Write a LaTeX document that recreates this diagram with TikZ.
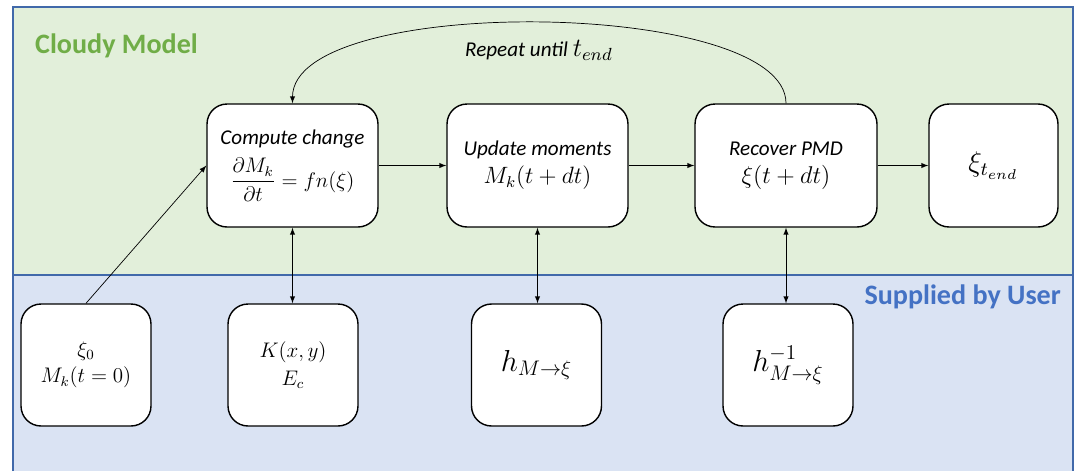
\documentclass[tikz,border=0pt]{standalone}
\usepackage{amsmath}
\usepackage{fontspec}
\setmainfont{Carlito}
\definecolor{panelgreen}{RGB}{226,239,218}
\definecolor{panelblue}{RGB}{218,227,243}
\definecolor{titlegreen}{RGB}{112,173,71}
\definecolor{titleblue}{RGB}{68,114,196}
\definecolor{edgeblue}{RGB}{65,105,170}
\newcommand{\bigmath}[2][1.12]{\scalebox{#1}{$#2$}}
\tikzset{
  >=latex,
}
\tikzstyle{block}=[draw,fill=white,rounded corners=0.4cm,line width=0.8pt,align=center,font=\fontsize{12}{15}\selectfont]
\tikzstyle{topblock}=[block,minimum height=2.46cm]
\tikzstyle{userblock}=[block,minimum width=2.6cm,minimum height=2.44cm]
\tikzstyle{flow}=[->,line width=0.4pt]
\tikzstyle{link}=[<->,line width=0.4pt]
\tikzstyle{title}=[font=\fontsize{16}{19}\selectfont\bfseries]

\begin{document}
\begin{tikzpicture}[x=0.02cm,y=-0.02cm]
    \useasboundingbox (0,0) rectangle (1077,471);
    % panels
    \fill[panelgreen] (13,7) rectangle (1073,275);
    \fill[panelblue] (13,275) rectangle (1073,471);
    \draw[edgeblue,line width=0.8pt] (13,471)--(13,7)--(1073,7)--(1073,471);
    \draw[edgeblue,line width=0.8pt] (13,275)--(1073,275);
    \node[title,titlegreen,anchor=west] (cloudy) at (29,46) {Cloudy Model};
    \node[title,titleblue,anchor=east] (user) at (1067,297) {Supplied by User};

    % model steps
    \node[topblock,minimum width=3.42cm] (compute) at (292.5,165.5)
    {\textit{Compute change}\\[5pt] $\dfrac{\partial M_k}{\partial t}=fn(\xi)$};
    \node[topblock,minimum width=3.62cm] (update) at (537.5,165.5)
    {\textit{Update moments}\\[1pt] \bigmath{M_k(t+dt)}};
    \node[topblock,minimum width=3.64cm] (recover) at (786,165.5)
    {\textit{Recover PMD}\\[1pt] \bigmath[1.15]{\xi(t+dt)}};
    \node[topblock,minimum width=2.58cm] (final) at (993.5,165.5) {\bigmath[1.35]{\xi_{t_{end}}}};

    % user inputs
    \node[userblock] (init) at (86,365) {$\xi_0$\\ $M_k(t=0)$};
    \node[userblock] (kernel) at (293,365) {$K(x,y)$\\[1pt] $E_c$};
    \node[userblock,font=\fontsize{17.28}{20}\selectfont] (fwd) at (536.5,365) {$h_{M\rightarrow\xi}$};
    \node[userblock,font=\fontsize{17.28}{20}\selectfont] (inv) at (788,365) {$h^{-1}_{M\rightarrow\xi}$};

    \draw[flow] (init.north) -- (compute.west);
    \draw[flow] (compute) -- (update);
    \draw[flow] (update) -- (recover);
    \draw[flow] (recover) -- (final);
    \draw[link] (compute.south) -- (compute.south |- kernel.north);
    \draw[link] (update.south) -- (update.south |- fwd.north);
    \draw[link] (recover.south) -- (recover.south |- inv.north);

    \draw[flow] (recover.north) .. controls +(0,-105) and +(0,-110) .. (compute.north);
    \node[font=\fontsize{12}{15}\selectfont] (repeat) at (539,50) {\textit{Repeat until} \bigmath[1.25]{t_{end}}};
\end{tikzpicture}
\end{document}
